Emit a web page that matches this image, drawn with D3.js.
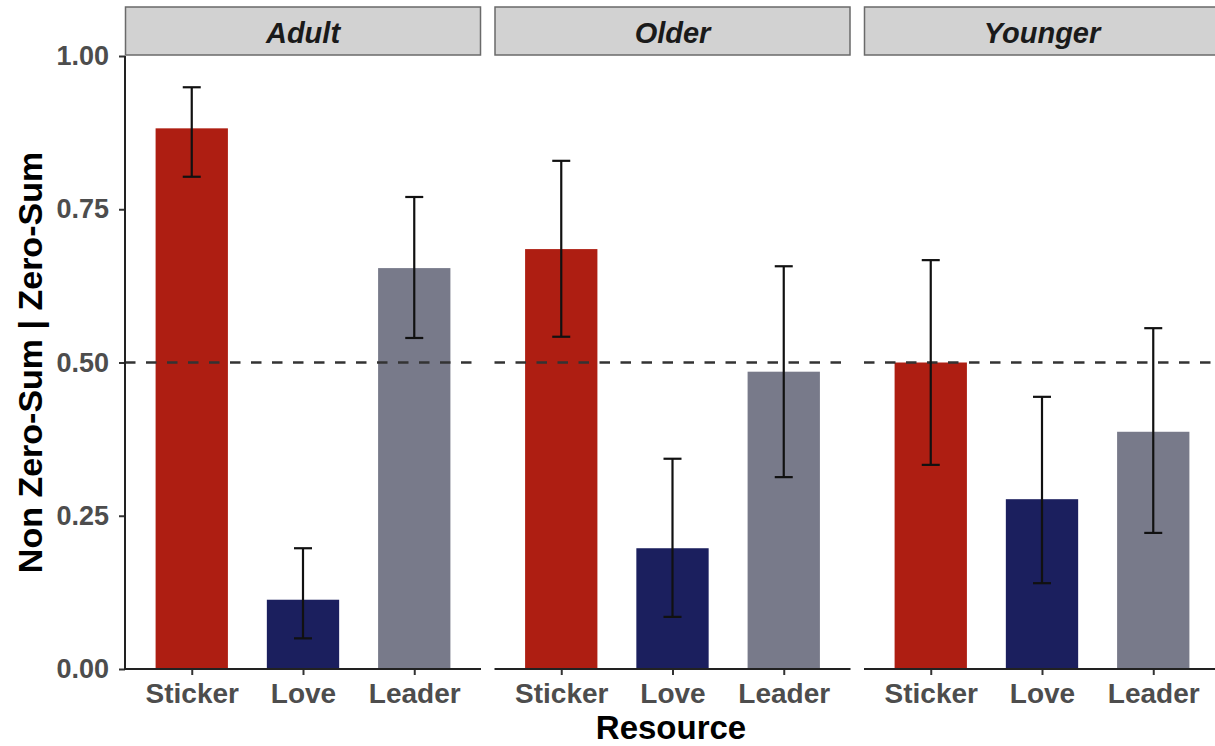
<!DOCTYPE html>
<html><head><meta charset="utf-8">
<script src="https://cdn.jsdelivr.net/npm/d3@7"></script>
<style>body{margin:0;background:#fff;overflow:hidden}svg{display:block;font-family:"Liberation Sans",Arial,Helvetica,sans-serif}</style>
</head><body><svg id="c" width="1215" height="746"></svg>
<script>
const panels = ["Adult", "Older", "Younger"];
const resources = ["Sticker", "Love", "Leader"];
const colors = ["#AE1E12", "#1B1F5E", "#787A8A"];
const means = {
  Adult:   [0.882, 0.113, 0.654],
  Older:   [0.685, 0.197, 0.485],
  Younger: [0.500, 0.277, 0.387]
};
const lower = {
  Adult:   [0.803, 0.050, 0.540],
  Older:   [0.542, 0.085, 0.313],
  Younger: [0.333, 0.140, 0.222]
};
const upper = {
  Adult:   [0.949, 0.197, 0.770],
  Older:   [0.829, 0.343, 0.657],
  Younger: [0.667, 0.444, 0.556]
};
const yTicks = [0, 0.25, 0.5, 0.75, 1.0];
const refLine = 0.5;

const svg = d3.select("#c");
const plotTop = 56, plotBottom = 669;
const panelLeft = [125, 494.5, 864], panelW = 356;
const y = d3.scaleLinear().domain([0, 1]).range([plotBottom, plotTop]);
const FF = "Liberation Sans, Arial, Helvetica, sans-serif";

panels.forEach((p, i) => {
  const x0 = panelLeft[i];
  const unit = panelW / 3.2;
  const cx = r => x0 + (0.6 + resources.indexOf(r)) * unit;
  const bw = 0.65 * unit;
  const g = svg.append("g");
  // strip
  g.append("rect").attr("x", x0 + 0.5).attr("y", 7).attr("width", panelW - 1).attr("height", 48)
    .attr("fill", "#D2D2D2").attr("stroke", "#6a6a6a").attr("stroke-width", 1.5);
  g.append("text").attr("x", x0 + panelW / 2).attr("y", 42.5).attr("text-anchor", "middle")
    .attr("font-size", 29).attr("font-weight", "bold").attr("font-style", "italic").attr("fill", "#1a1a1a").text(p);
  // bars
  resources.forEach((r, j) => {
    g.append("rect").attr("x", cx(r) - bw / 2).attr("width", bw)
      .attr("y", y(means[p][j])).attr("height", y(0) - y(means[p][j])).attr("fill", colors[j]);
  });
  // reference line
  g.append("line").attr("x1", x0).attr("x2", x0 + panelW).attr("y1", y(refLine)).attr("y2", y(refLine))
    .attr("stroke", "#333").attr("stroke-width", 2.5).attr("stroke-dasharray", "10.5,10.5");
  // error bars
  resources.forEach((r, j) => {
    const c = cx(r), hw = 9;
    const eg = g.append("g").attr("stroke", "#111").attr("stroke-width", 2.2);
    eg.append("line").attr("x1", c).attr("x2", c).attr("y1", y(lower[p][j])).attr("y2", y(upper[p][j]));
    eg.append("line").attr("x1", c - hw).attr("x2", c + hw).attr("y1", y(lower[p][j])).attr("y2", y(lower[p][j]));
    eg.append("line").attr("x1", c - hw).attr("x2", c + hw).attr("y1", y(upper[p][j])).attr("y2", y(upper[p][j]));
  });
  // x axis
  const xs = d3.scalePoint().domain(resources).range([cx(resources[0]), cx(resources[2])]);
  const ax = g.append("g").attr("transform", `translate(0,${plotBottom})`)
    .call(d3.axisBottom(xs).tickSize(6).tickPadding(8));
  ax.attr("font-size", null).attr("font-family", null);
  ax.select(".domain").remove();
  ax.append("line").attr("x1", x0).attr("x2", x0 + panelW).attr("stroke", "#222").attr("stroke-width", 2);
  ax.selectAll(".tick line").attr("stroke", "#333").attr("stroke-width", 2);
  ax.selectAll(".tick text").style("font-size", "28px").style("font-weight", "bold").attr("fill", "#4d4d4d")
    .style("font-family", FF);
  if (i === 0) {
    const ay = g.append("g").attr("transform", `translate(${x0},0)`)
      .call(d3.axisLeft(y).tickValues(yTicks).tickFormat(d3.format(".2f")).tickSize(6).tickPadding(10));
    ay.attr("font-size", null).attr("font-family", null);
    ay.select(".domain").remove();
    ay.append("line").attr("y1", plotTop).attr("y2", plotBottom + 1).attr("stroke", "#222").attr("stroke-width", 2);
    ay.selectAll(".tick line").attr("stroke", "#333").attr("stroke-width", 2);
    ay.selectAll(".tick text").style("font-size", "27px").style("font-weight", "bold").attr("fill", "#4d4d4d")
      .style("font-family", FF);
  }
});

svg.append("text").attr("x", 671).attr("y", 739).attr("text-anchor", "middle")
  .attr("font-size", 33).attr("font-weight", "bold").attr("fill", "#000").text("Resource");
svg.append("text").attr("transform", `translate(42,${(plotTop + plotBottom) / 2}) rotate(-90)`).attr("text-anchor", "middle")
  .attr("font-size", 34).attr("font-weight", "bold").attr("fill", "#000").text("Non Zero-Sum | Zero-Sum");
</script></body></html>
